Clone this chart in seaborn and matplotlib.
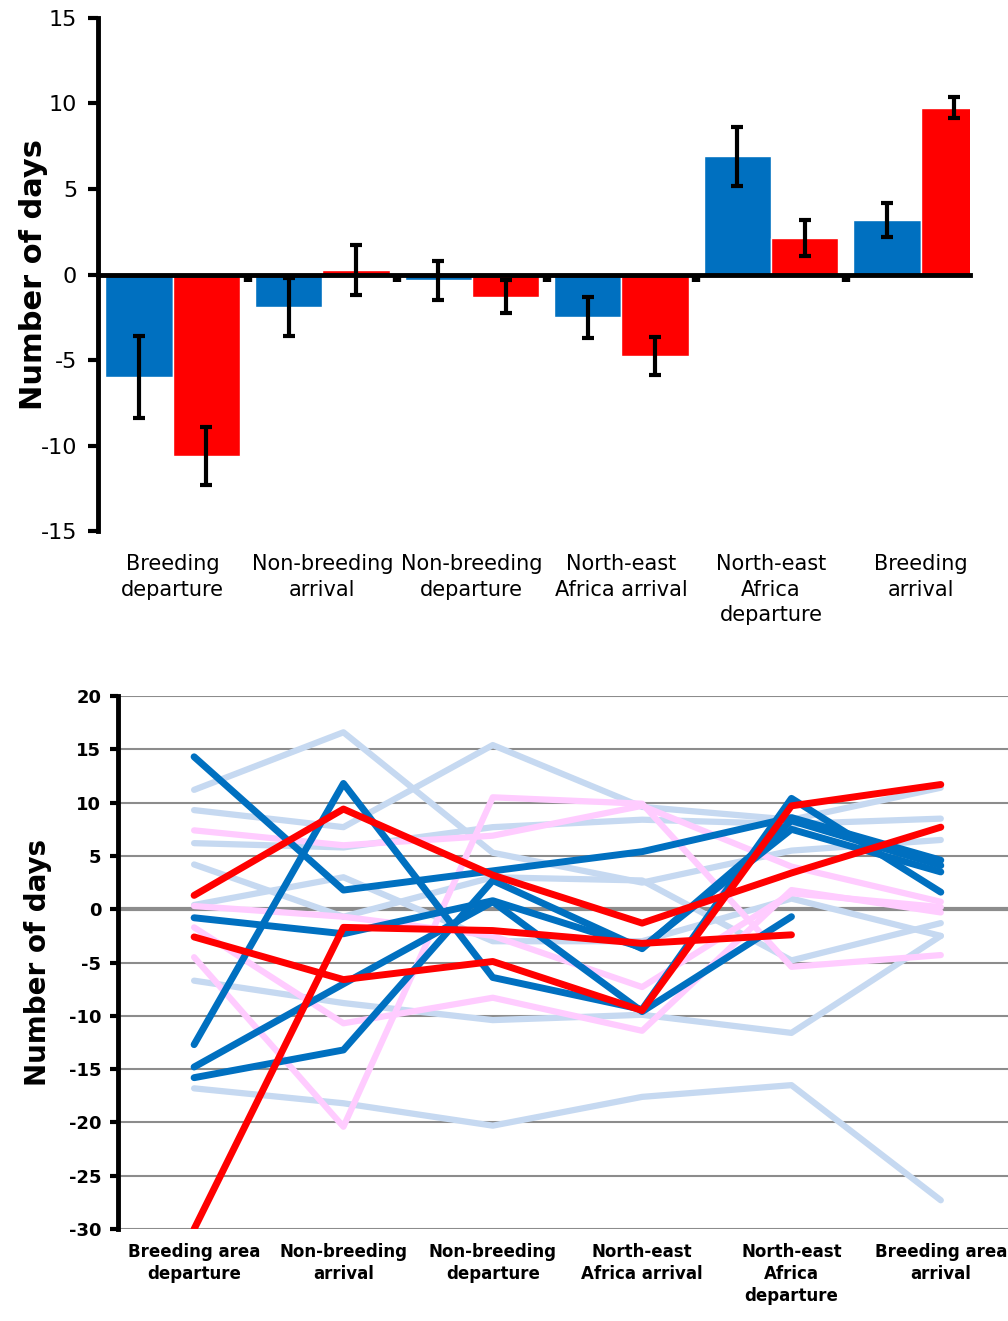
import numpy as np
import pandas as pd
import matplotlib
matplotlib.use("Agg")
import matplotlib.pyplot as plt
import matplotlib.transforms as mtransforms
import seaborn as sns

sns.set_style("white")
plt.rcParams['font.family'] = ['DejaVu Sans']
plt.rcParams['axes.unicode_minus'] = False
plt.rcParams['text.color'] = 'black'
plt.rcParams['axes.labelcolor'] = 'black'
plt.rcParams['xtick.color'] = 'black'
plt.rcParams['ytick.color'] = 'black'

BLUE = "#0070C0"
RED = "#FF0000"
LIGHT_BLUE = "#C6D9F1"
PINK = "#FFCCFF"
NARROW = ["DejaVu Sans Condensed", "DejaVu Sans"]

# ---- top panel: mean difference with error bars ----
stages_top = ["Breeding\ndeparture", "Non-breeding\narrival", "Non-breeding\ndeparture",
              "North-east\nAfrica arrival", "North-east\nAfrica\ndeparture", "Breeding\narrival"]
blue_mean = [-6.0, -1.9, -0.35, -2.5, 6.9, 3.2]
blue_err = [2.4, 1.7, 1.15, 1.2, 1.7, 1.0]
red_mean = [-10.6, 0.25, -1.3, -4.75, 2.15, 9.75]
red_err = [1.7, 1.45, 0.95, 1.1, 1.05, 0.6]

# ---- bottom panel: individual tracks ----
stages_bottom = ["Breeding area\ndeparture", "Non-breeding\narrival", "Non-breeding\ndeparture",
                 "North-east\nAfrica arrival", "North-east\nAfrica\ndeparture", "Breeding area\narrival"]
nan = np.nan
light_blue_tracks = [
    [11.2, 16.6, 5.3, 2.5, 5.5, 6.5],
    [9.3, 7.7, 15.4, 9.6, 8.4, 11.4],
    [6.2, 5.8, 7.7, 8.4, 8.0, 8.5],
    [4.2, -0.7, 3.0, 2.7, -4.8, -1.3],
    [0.4, 3.0, -3.0, -3.0, 1.0, -2.5],
    [-6.7, -8.8, -10.4, -9.9, -11.6, -2.5],
    [-16.8, -18.2, -20.3, -17.6, -16.5, -27.3],
]
pink_tracks = [
    [7.4, 6.0, 6.9, 9.7, 4.0, 0.7],
    [-4.5, -20.4, 10.5, 9.9, -5.4, -4.3],
    [-1.7, -10.7, -8.3, -11.4, 1.8, -0.3],
    [0.3, -0.7, -2.5, -7.3, 1.5, 0.2],
]
blue_tracks = [
    [14.3, 1.8, 3.6, 5.4, 8.6, 4.6],
    [-12.7, 11.8, -6.4, -9.4, 10.4, 1.6],
    [-0.8, -2.3, 0.8, -3.6, 7.5, 3.5],
    [-14.8, -7.0, 0.7, -9.6, -0.7, nan],
    [-15.8, -13.2, 2.7, -3.7, 8.3, 4.1],
]
red_tracks = [
    [1.3, 9.4, 3.2, -1.3, 3.4, 7.7],
    [-2.6, -6.6, -4.9, -9.5, 9.7, 11.7],
    [-30.0, -1.7, -2.0, -3.2, -2.4, nan],
]

fig = plt.figure(figsize=(10.08, 13.21), dpi=100)

# top bar chart
ax1 = fig.add_axes([0.0972, 0.598, 0.865, 0.3884])
df_top = pd.DataFrame({
    "stage": stages_top * 2,
    "days": blue_mean + red_mean,
    "err": blue_err + red_err,
    "group": ["A"] * 6 + ["B"] * 6,
})
sns.barplot(data=df_top, x="stage", y="days", hue="group", palette=[BLUE, RED],
            saturation=1, width=0.9, errorbar=None, legend=False, ax=ax1)
for cont, errs in zip(ax1.containers, [blue_err, red_err]):
    xs = [b.get_x() + b.get_width() / 2 for b in cont]
    ys = [b.get_height() for b in cont]
    ax1.errorbar(xs, ys, yerr=errs, fmt="none", ecolor="black",
                 elinewidth=3, capsize=4.5, capthick=3, zorder=5)

ax1.set_xlim(-0.5, 5.33)
ax1.set_ylim(-15, 15)
ax1.set_yticks(range(-15, 16, 5))
ax1.tick_params(axis="y", direction="out", length=7, width=3, labelsize=16,
                color="black", left=True, pad=8)
ax1.spines["top"].set_visible(False)
ax1.spines["right"].set_visible(False)
ax1.spines["left"].set_linewidth(3.5)
ax1.spines["left"].set_color("black")
ax1.spines["bottom"].set_position(("data", 0))
ax1.spines["bottom"].set_linewidth(3.5)
ax1.spines["bottom"].set_color("black")
ax1.spines["bottom"].set_zorder(6)
ax1.set_xticks([0.5, 1.5, 2.5, 3.5, 4.5])
ax1.set_xticklabels([])
ax1.tick_params(axis="x", direction="out", length=5, width=6, color="black", bottom=True)
ax1.set_xlabel("")
ax1.set_ylabel("Number of days", fontsize=22, fontweight="bold")
ax1.yaxis.set_label_coords(-0.057, 0.5)
trans1 = mtransforms.blended_transform_factory(ax1.transData, ax1.transAxes)
for i, lab in enumerate(stages_top):
    ax1.text(i, -0.045, lab, transform=trans1, ha="center", va="top",
             fontsize=15, linespacing=1.35)

# bottom line chart
ax2 = fig.add_axes([0.117, 0.0696, 0.883, 0.4035])
groups = [(light_blue_tracks, LIGHT_BLUE, 4.5, "lb"), (pink_tracks, PINK, 4.5, "pk"),
          (blue_tracks, BLUE, 5.0, "bl"), (red_tracks, RED, 5.0, "rd")]
for tracks, col, lw, tag in groups:
    rows = []
    for k, tr in enumerate(tracks):
        for j, v in enumerate(tr):
            rows.append({"pos": j, "days": v, "bird": f"{tag}{k}"})
    df = pd.DataFrame(rows).dropna()
    sns.lineplot(data=df, x="pos", y="days", units="bird", estimator=None,
                 color=col, lw=lw, solid_capstyle="round", ax=ax2)

ax2.set_xlim(-0.51, 5.45)
ax2.set_ylim(-30, 20)
ax2.set_yticks(range(-30, 21, 5))
ax2.set_axisbelow(True)
ax2.yaxis.grid(True, color="#8c8c8c", lw=1.5)
ax2.axhline(0, color="#8c8c8c", lw=3, zorder=1)
for s in ["top", "right", "bottom"]:
    ax2.spines[s].set_visible(False)
ax2.spines["left"].set_linewidth(3.5)
ax2.spines["left"].set_color("black")
ax2.set_xticks(range(6))
ax2.set_xticklabels(stages_bottom, family=NARROW, fontweight="bold",
                    fontsize=12, linespacing=1.3)
ax2.tick_params(axis="x", length=0, pad=10)
ax2.tick_params(axis="y", direction="out", length=6, width=3, color="black", left=True, pad=6)
for t in ax2.get_yticklabels():
    t.set_family(NARROW)
    t.set_fontweight("bold")
    t.set_fontsize(13)
ax2.set_xlabel("")
ax2.set_ylabel("Number of days", fontsize=20, fontweight="bold", labelpad=12)

fig.savefig("out.png", dpi=100)
